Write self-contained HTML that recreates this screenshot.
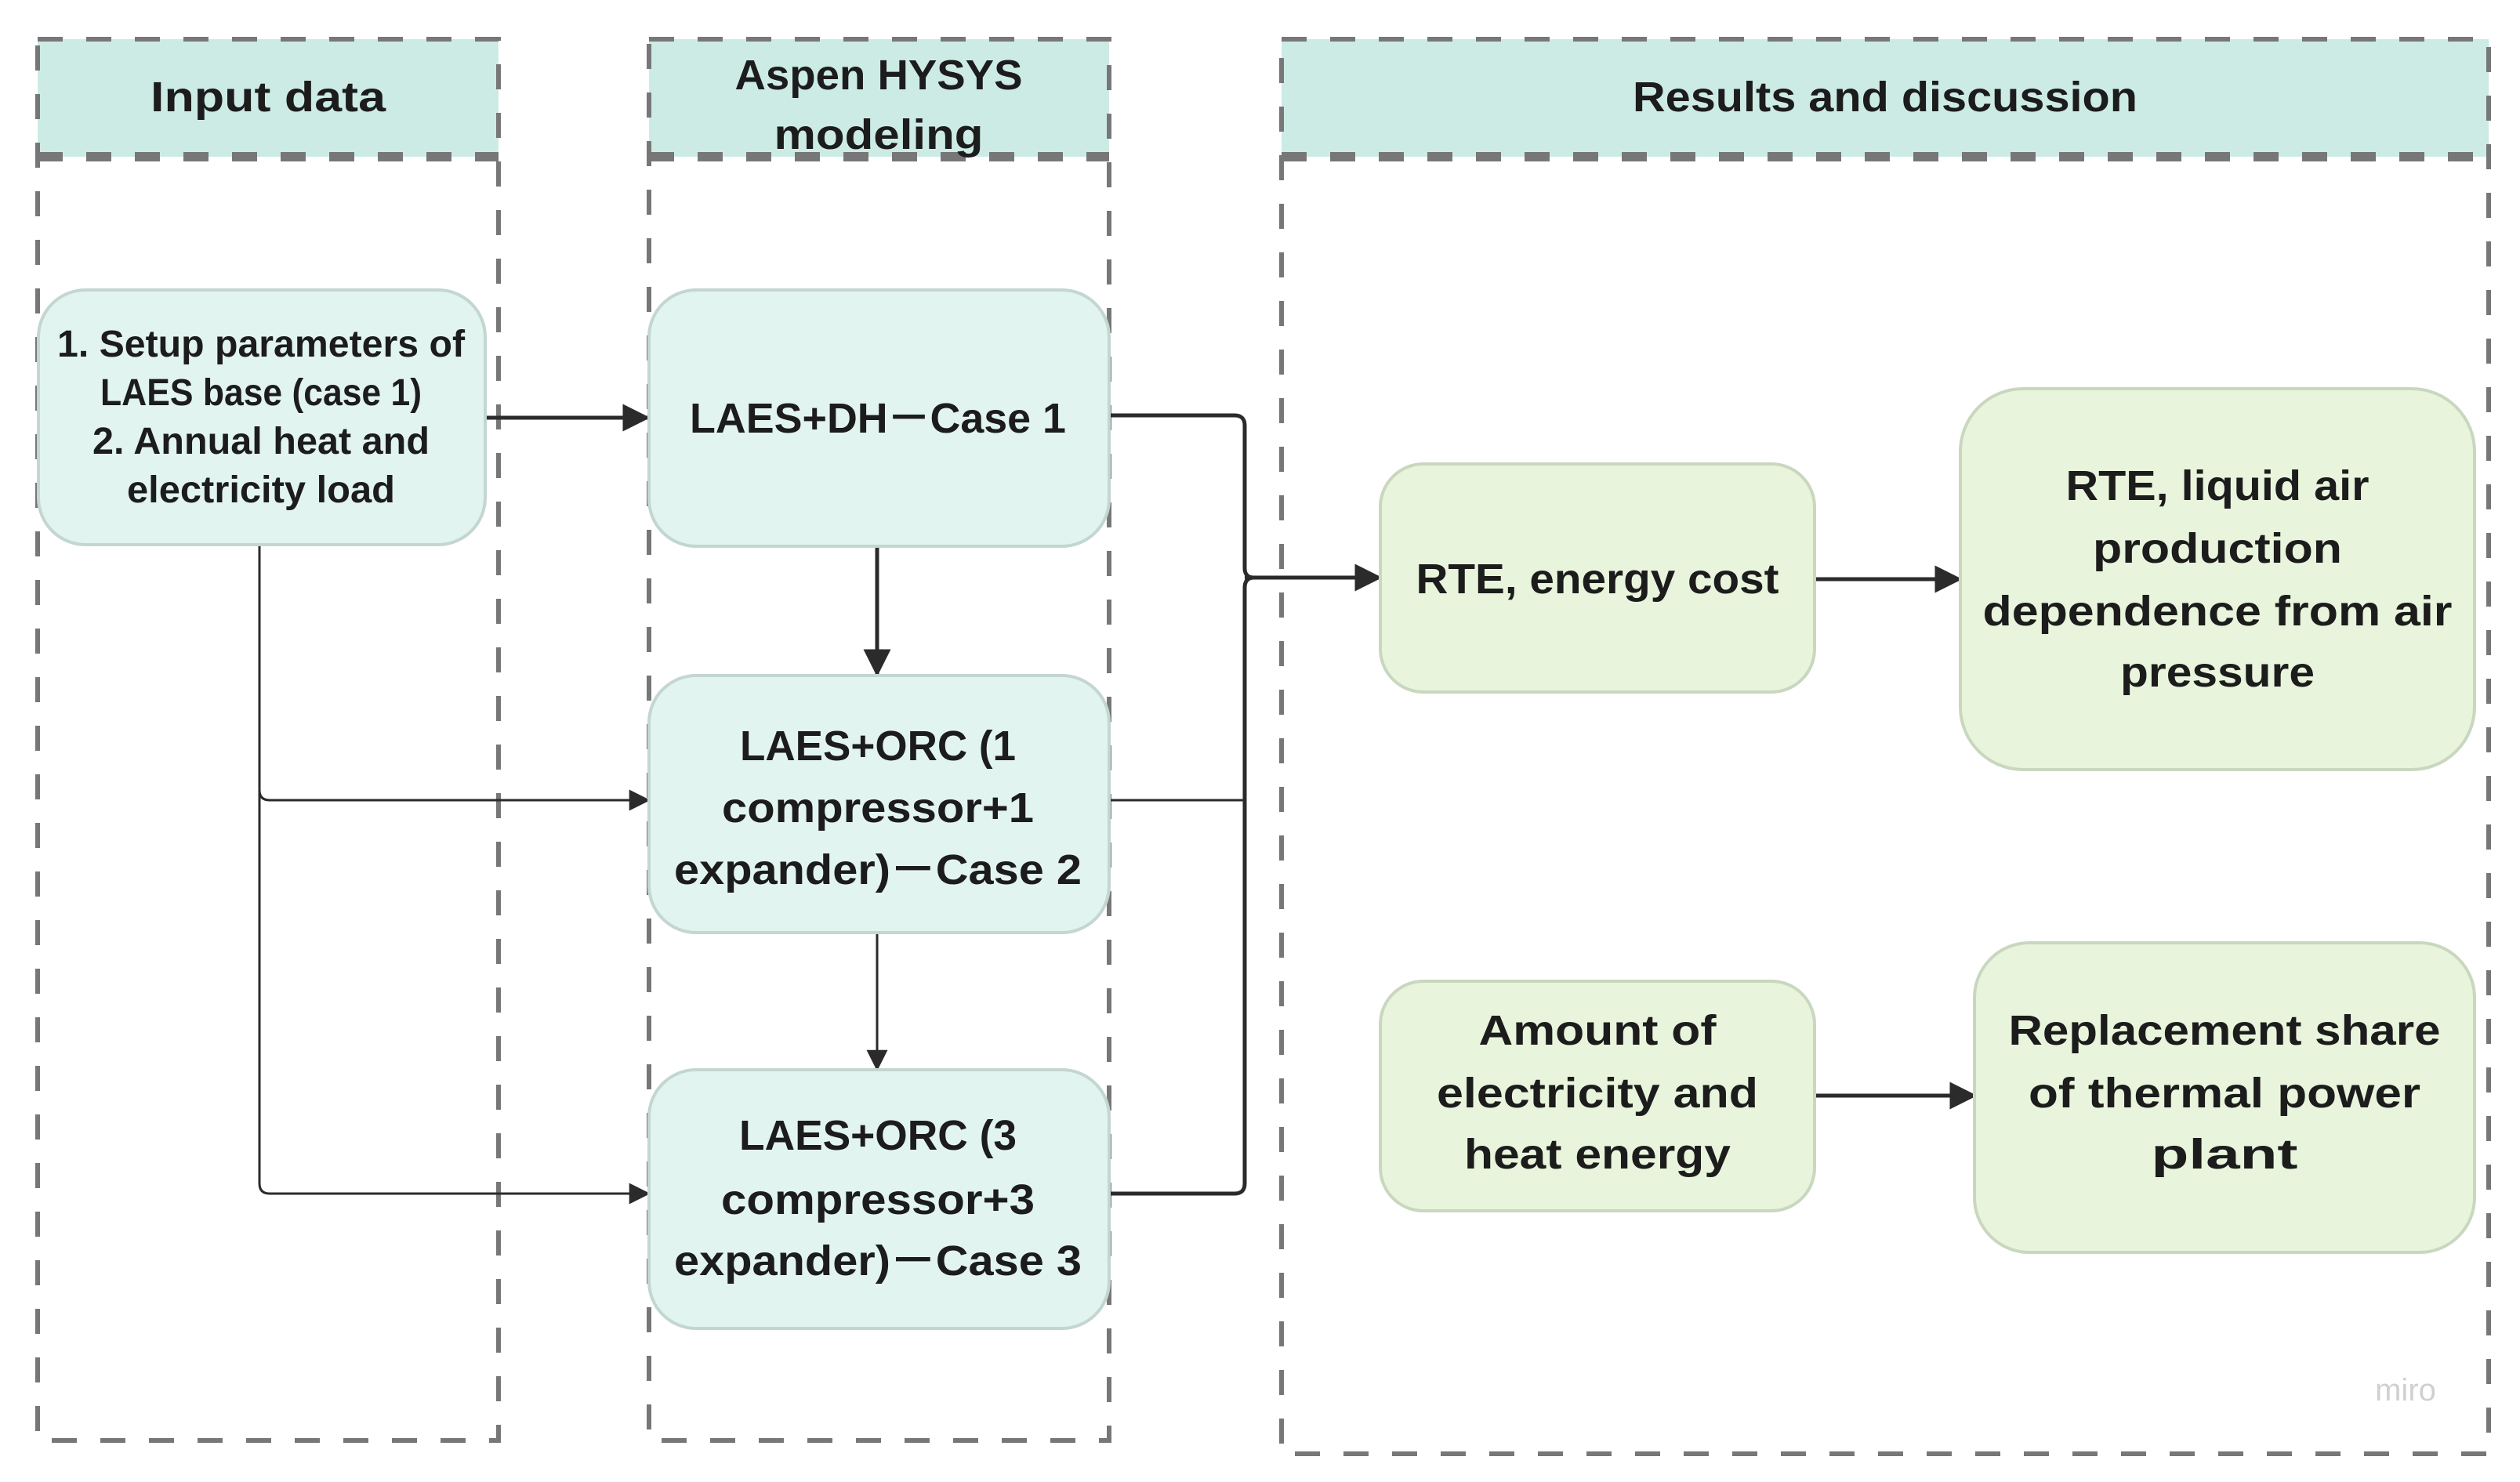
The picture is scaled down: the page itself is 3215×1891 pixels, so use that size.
<!DOCTYPE html>
<html><head><meta charset="utf-8"><style>html,body{margin:0;padding:0;background:#fff}svg{display:block}</style></head>
<body>
<svg width="3215" height="1891" viewBox="0 0 3215 1891" xmlns="http://www.w3.org/2000/svg" font-family="Liberation Sans, sans-serif" font-weight="bold" fill="#1c1c1c">
<defs>
<marker id="ah" viewBox="0 0 10 10" refX="9" refY="5" markerWidth="7" markerHeight="7" orient="auto" markerUnits="strokeWidth"><path d="M0,0 L10,5 L0,10 z" fill="#2b2b2b"/></marker>
<marker id="ah2" viewBox="0 0 10 10" refX="9" refY="5" markerWidth="9" markerHeight="9" orient="auto" markerUnits="strokeWidth"><path d="M0,0 L10,5 L0,10 z" fill="#2b2b2b"/></marker>
</defs>
<g fill="#cdebe5">
<rect x="48" y="50" width="588" height="150"/>
<rect x="828" y="50" width="587" height="150"/>
<rect x="1635" y="50" width="1540" height="150"/>
</g>
<g fill="none" stroke="#777" stroke-width="6" stroke-dasharray="32 30">
<path d="M48 50 H636 V1838 H48 Z"/>
<path d="M828 50 H1415 V1838 H828 Z"/>
<path d="M1635 50 H3175 V1855 H1635 Z"/>
</g>
<g stroke="#777" stroke-width="12" stroke-dasharray="32 30">
<line x1="48" y1="200" x2="636" y2="200"/>
<line x1="828" y1="200" x2="1415" y2="200"/>
<line x1="1635" y1="200" x2="3175" y2="200"/>
</g>
<g font-size="54">
<text x="342" y="142" text-anchor="middle" textLength="300" lengthAdjust="spacingAndGlyphs">Input data</text>
<text x="1121" y="114" text-anchor="middle" textLength="367" lengthAdjust="spacingAndGlyphs">Aspen HYSYS</text>
<text x="1121" y="190" text-anchor="middle" textLength="267" lengthAdjust="spacingAndGlyphs">modeling</text>
<text x="2405" y="142" text-anchor="middle" textLength="644" lengthAdjust="spacingAndGlyphs">Results and discussion</text>
</g>
<g fill="none" stroke="#2b2b2b" stroke-width="5">
<line x1="619" y1="533" x2="826" y2="533" marker-end="url(#ah)"/>
<line x1="1119" y1="697" x2="1119" y2="860" marker-end="url(#ah)"/>
<line x1="1119" y1="1190" x2="1119" y2="1364" stroke-width="3" marker-end="url(#ah2)"/>
<path d="M331 697 V1510 Q331 1523 344 1523 H827" stroke-width="3" marker-end="url(#ah2)"/>
<path d="M331 1008 Q331 1021 344 1021 H827" stroke-width="3" marker-end="url(#ah2)"/>
<path d="M1415 530 H1575 Q1588 530 1588 543 V725 Q1588 737 1600 737"/>
<path d="M1415 1021 H1588" stroke-width="3"/>
<path d="M1415 1523 H1575 Q1588 1523 1588 1510 V750 Q1588 737 1600 737"/>
<line x1="1588" y1="737" x2="1760" y2="737" marker-end="url(#ah)"/>
<line x1="2315" y1="739" x2="2500" y2="739" marker-end="url(#ah)"/>
<line x1="2315" y1="1398" x2="2519" y2="1398" marker-end="url(#ah)"/>
</g>
<g fill="#e2f4f0" stroke="#c3d6d2" stroke-width="4">
<rect x="49" y="370" width="570" height="325" rx="60"/>
<rect x="828" y="370" width="587" height="327" rx="60"/>
<rect x="828" y="862" width="587" height="328" rx="60"/>
<rect x="828" y="1365" width="587" height="330" rx="60"/>
</g>
<g fill="#e8f5dc" stroke="#cad7bf" stroke-width="4">
<rect x="1761" y="592" width="554" height="291" rx="55"/>
<rect x="2501" y="496" width="656" height="486" rx="80"/>
<rect x="1761" y="1252" width="554" height="293" rx="55"/>
<rect x="2519" y="1203" width="638" height="395" rx="70"/>
</g>
<g font-size="48" text-anchor="middle">
<text x="333" y="455" textLength="520" lengthAdjust="spacingAndGlyphs">1. Setup parameters of</text>
<text x="333" y="517" textLength="410" lengthAdjust="spacingAndGlyphs">LAES base (case 1)</text>
<text x="333" y="579" textLength="430" lengthAdjust="spacingAndGlyphs">2. Annual heat and</text>
<text x="333" y="641" textLength="342" lengthAdjust="spacingAndGlyphs">electricity load</text>
</g>
<g font-size="54" text-anchor="middle">
<text x="1120" y="552" textLength="480" lengthAdjust="spacingAndGlyphs">LAES+DH－Case 1</text>
<text x="1120" y="970" textLength="352" lengthAdjust="spacingAndGlyphs">LAES+ORC (1</text>
<text x="1120" y="1049" textLength="398" lengthAdjust="spacingAndGlyphs">compressor+1</text>
<text x="1120" y="1128" textLength="520" lengthAdjust="spacingAndGlyphs">expander)－Case 2</text>
<text x="1120" y="1467" textLength="354" lengthAdjust="spacingAndGlyphs">LAES+ORC (3</text>
<text x="1120" y="1549" textLength="400" lengthAdjust="spacingAndGlyphs">compressor+3</text>
<text x="1120" y="1627" textLength="520" lengthAdjust="spacingAndGlyphs">expander)－Case 3</text>
<text x="2038" y="757" textLength="463" lengthAdjust="spacingAndGlyphs">RTE, energy cost</text>
<text x="2829" y="638" textLength="387" lengthAdjust="spacingAndGlyphs">RTE, liquid air</text>
<text x="2829" y="718" textLength="318" lengthAdjust="spacingAndGlyphs">production</text>
<text x="2829" y="798" textLength="599" lengthAdjust="spacingAndGlyphs">dependence from air</text>
<text x="2829" y="876" textLength="248" lengthAdjust="spacingAndGlyphs">pressure</text>
<text x="2038" y="1333" textLength="303" lengthAdjust="spacingAndGlyphs">Amount of</text>
<text x="2038" y="1413" textLength="410" lengthAdjust="spacingAndGlyphs">electricity and</text>
<text x="2038" y="1491" textLength="340" lengthAdjust="spacingAndGlyphs">heat energy</text>
<text x="2838" y="1333" textLength="551" lengthAdjust="spacingAndGlyphs">Replacement share</text>
<text x="2838" y="1413" textLength="500" lengthAdjust="spacingAndGlyphs">of thermal power</text>
<text x="2838" y="1491" textLength="187" lengthAdjust="spacingAndGlyphs">plant</text>
</g>
<text x="3069" y="1787" font-size="40" font-weight="normal" fill="#d0d0d4" text-anchor="middle">miro</text>
</svg>
</body></html>
